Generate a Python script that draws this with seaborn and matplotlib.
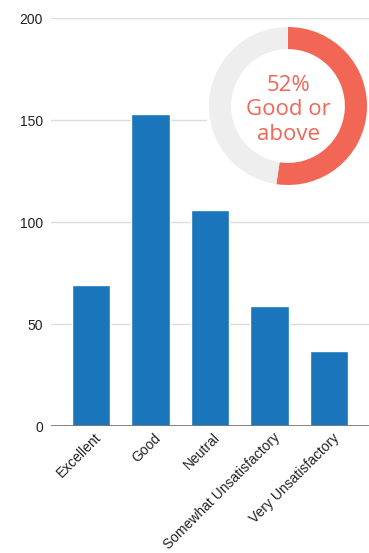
import matplotlib
matplotlib.use("Agg")
import matplotlib.pyplot as plt
import seaborn as sns
import pandas as pd

categories = ["Excellent", "Good", "Neutral", "Somewhat Unsatisfactory", "Very Unsatisfactory"]
counts = [69, 153, 106, 59, 37]
y_ticks = [0, 50, 100, 150, 200]

BAR_COLOR = "#1a75bb"
RING_COLOR = "#f26656"
RING_BG = "#eeeeee"

sns.set_theme(style="white")
plt.rcParams["font.family"] = ["Liberation Sans", "DejaVu Sans"]

W, H = 369, 553
fig = plt.figure(figsize=(W / 100, H / 100), dpi=100)
fig.patch.set_facecolor("white")

def px_axes(x0, y0, x1, y1):
    return fig.add_axes([x0 / W, 1 - y1 / H, (x1 - x0) / W, (y1 - y0) / H])

ax = px_axes(51, 18, 369, 426)
df = pd.DataFrame({"category": categories, "count": counts})
sns.barplot(data=df, x="category", y="count", color=BAR_COLOR, saturation=1,
            width=0.64, ax=ax)

ax.set_ylim(0, 200)
ax.set_xlim(-0.672, 4.672)
ax.set_yticks(y_ticks)
ax.set_yticklabels([str(v) for v in y_ticks], fontsize=10, color="#222222")
ax.set_xlabel("")
ax.set_ylabel("")
for v in y_ticks[1:]:
    ax.axhline(v, color="#dddddd", lw=1, zorder=0)
ax.axhline(0, color="#777777", lw=2, zorder=3)
for s in ax.spines.values():
    s.set_visible(False)
ax.tick_params(axis="y", length=0, pad=5.8)
ax.tick_params(axis="x", length=0, pad=4)
ax.set_xticks(range(len(categories)))
ax.set_xticklabels(categories, rotation=45, ha="right", va="center",
                   rotation_mode="anchor", fontsize=10, color="#222222")
for lbl in ax.get_xticklabels():
    lbl.set_transform(lbl.get_transform() + matplotlib.transforms.ScaledTranslation(8 / 100, -4 / 100, fig.dpi_scale_trans))

# donut summarising the share of "Good" or better ratings
good_or_above = counts[0] + counts[1]
rest = sum(counts) - good_or_above
pct = round(100 * good_or_above / sum(counts))

dax = px_axes(207, 25, 369, 187)
dax.set_facecolor("white")
dax.pie([good_or_above, rest], colors=[RING_COLOR, RING_BG], startangle=90,
        counterclock=False, radius=1,
        wedgeprops=dict(width=0.28, linewidth=0))
lim = 81 / 79
dax.set_xlim(-lim, lim)
dax.set_ylim(-lim, lim)
dax.set_aspect("auto")
dax.axis("off")
fig.patches.append(matplotlib.patches.Rectangle((207 / W, 1 - 190 / H), 162 / W, 168 / H,
                                                transform=fig.transFigure, facecolor="white",
                                                edgecolor="none", zorder=1))
dax.set_zorder(2)
dax.text(0, -0.05, f"{pct}%\nGood or\nabove", ha="center", va="center",
         fontsize=16, color=RING_COLOR, family=["Open Sans", "DejaVu Sans"],
         linespacing=1.24)

fig.savefig("out.png", dpi=100)
